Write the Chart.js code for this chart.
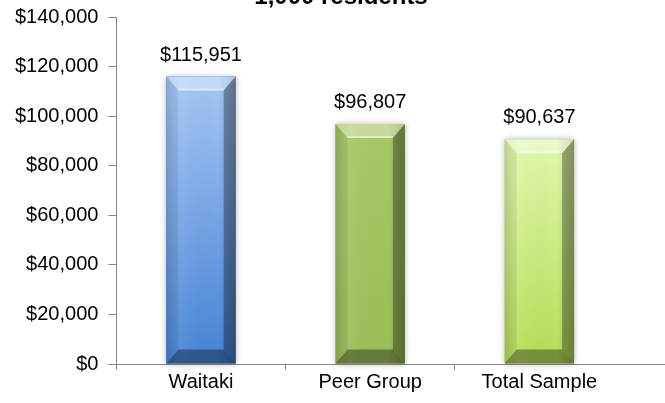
<!DOCTYPE html>
<html>
<head>
<meta charset="utf-8">
<title>Income per 1,000 residents</title>
<script src="https://cdn.jsdelivr.net/npm/chart.js@4"></script>
<style>
  html, body { margin: 0; padding: 0; background: #fff; }
  #wrap { width: 665px; height: 403px; position: relative; overflow: hidden; }
  #inner { position: absolute; left: 0; top: -5px; width: 665px; height: 408px; }
</style>
</head>
<body>
<div id="wrap"><div id="inner"><canvas id="income"></canvas></div></div>
<script>
var categories = ['Waitaki', 'Peer Group', 'Total Sample'];
var values = [115951, 96807, 90637];
var yMin = 0;
var yMax = 140000;
var yStep = 20000;
var titleText = '1,000 residents';

// body gradient (top -> bottom) for each bar
var barTops = ['#a6c7f6', '#a9c967', '#e3f9ad'];
var barBottoms = ['#4583d6', '#9dbd58', '#b5dd55'];

var FONT = '"Liberation Sans", Arial, sans-serif';
var AXIS_GREY = '#868686';

function money(v) {
  return '$' + Math.round(v).toLocaleString('en-US');
}

function face(ctx, pts, fill) {
  ctx.beginPath();
  ctx.moveTo(pts[0][0], pts[0][1]);
  for (var i = 1; i < pts.length; i++) ctx.lineTo(pts[i][0], pts[i][1]);
  ctx.closePath();
  ctx.fillStyle = fill;
  ctx.fill();
}

// paints each bar as a bevelled block over the plain rectangle
var bevelBars = {
  id: 'bevelBars',
  afterDatasetsDraw: function(chart) {
    var ctx = chart.ctx;
    var meta = chart.getDatasetMeta(0);
    meta.data.forEach(function(bar, i) {
      var p = bar.getProps(['x', 'y', 'base', 'width'], true);
      var l = p.x - p.width / 2, r = p.x + p.width / 2;
      var t = p.y, b = p.base;
      var bs = 12, bt = 14;

      ctx.save();
      ctx.shadowColor = 'rgba(0,0,0,0.28)';
      ctx.shadowBlur = 6;
      var g = ctx.createLinearGradient(0, t, 0, b);
      g.addColorStop(0, barTops[i]);
      g.addColorStop(1, barBottoms[i]);
      ctx.fillStyle = g;
      ctx.fillRect(l, t, r - l, b - t);
      ctx.restore();

      ctx.save();
      // side shading across the width
      var h = ctx.createLinearGradient(l, 0, r, 0);
      h.addColorStop(0, 'rgba(0,0,0,0.10)');
      h.addColorStop(0.2, 'rgba(255,255,255,0.06)');
      h.addColorStop(0.75, 'rgba(0,0,0,0)');
      h.addColorStop(1, 'rgba(0,0,0,0.18)');
      ctx.fillStyle = h;
      ctx.fillRect(l, t, r - l, b - t);

      var il = l + bs, ir = r - bs, it = t + bt, ib = b - bt;
      face(ctx, [[l, t], [r, t], [ir, it], [il, it]], 'rgba(255,255,255,0.35)');
      face(ctx, [[l, t], [il, it], [il, ib], [l, b]], 'rgba(0,0,0,0.06)');
      face(ctx, [[r, t], [ir, it], [ir, ib], [r, b]], 'rgba(0,0,0,0.30)');
      face(ctx, [[l, b], [il, ib], [ir, ib], [r, b]], 'rgba(0,0,0,0.35)');

      // thin highlight along the inner top edge
      ctx.strokeStyle = 'rgba(255,255,255,0.45)';
      ctx.lineWidth = 2;
      ctx.beginPath();
      ctx.moveTo(il, it - 1);
      ctx.lineTo(ir, it - 1);
      ctx.stroke();
      ctx.restore();
    });
  }
};

// value labels, title and the x axis line running off to the right
var extras = {
  id: 'extras',
  afterDraw: function(chart) {
    var ctx = chart.ctx;
    var area = chart.chartArea;
    var meta = chart.getDatasetMeta(0);
    ctx.save();
    ctx.fillStyle = '#000';
    ctx.font = '20px ' + FONT;
    ctx.textAlign = 'center';
    ctx.textBaseline = 'alphabetic';
    meta.data.forEach(function(bar, i) {
      ctx.fillText(money(values[i]), bar.x, bar.y - 16);
    });

    ctx.font = 'bold 24px ' + FONT;
    ctx.fillText(titleText, 341, 9);

    ctx.strokeStyle = AXIS_GREY;
    ctx.lineWidth = 1;
    ctx.beginPath();
    ctx.moveTo(area.right, Math.round(area.bottom) + 0.5);
    ctx.lineTo(chart.width, Math.round(area.bottom) + 0.5);
    ctx.stroke();
    ctx.restore();
  }
};

new Chart(document.getElementById('income'), {
  type: 'bar',
  data: {
    labels: categories,
    datasets: [{
      data: values,
      backgroundColor: barBottoms,
      borderWidth: 0,
      barPercentage: 0.41,
      categoryPercentage: 1
    }]
  },
  options: {
    responsive: true,
    maintainAspectRatio: false,
    animation: false,
    layout: { padding: { top: 12, left: 5, right: 41, bottom: 9 } },
    plugins: {
      legend: { display: false },
      tooltip: { enabled: false },
      title: { display: false }
    },
    scales: {
      x: {
        grid: {
          drawOnChartArea: false,
          tickLength: 6,
          // no tick mark on the closing edge
          color: function(c) { return c.tick ? AXIS_GREY : 'rgba(0,0,0,0)'; }
        },
        border: { color: AXIS_GREY },
        ticks: { color: '#000', font: { family: FONT, size: 20 }, padding: 0, maxRotation: 0 }
      },
      y: {
        min: yMin,
        max: yMax,
        grid: { drawOnChartArea: false, tickLength: 8, color: AXIS_GREY },
        border: { color: AXIS_GREY },
        ticks: {
          stepSize: yStep,
          color: '#000',
          padding: 10,
          font: { family: FONT, size: 20 },
          callback: function(v) { return money(v); }
        }
      }
    }
  },
  plugins: [bevelBars, extras]
});
</script>
</body>
</html>
